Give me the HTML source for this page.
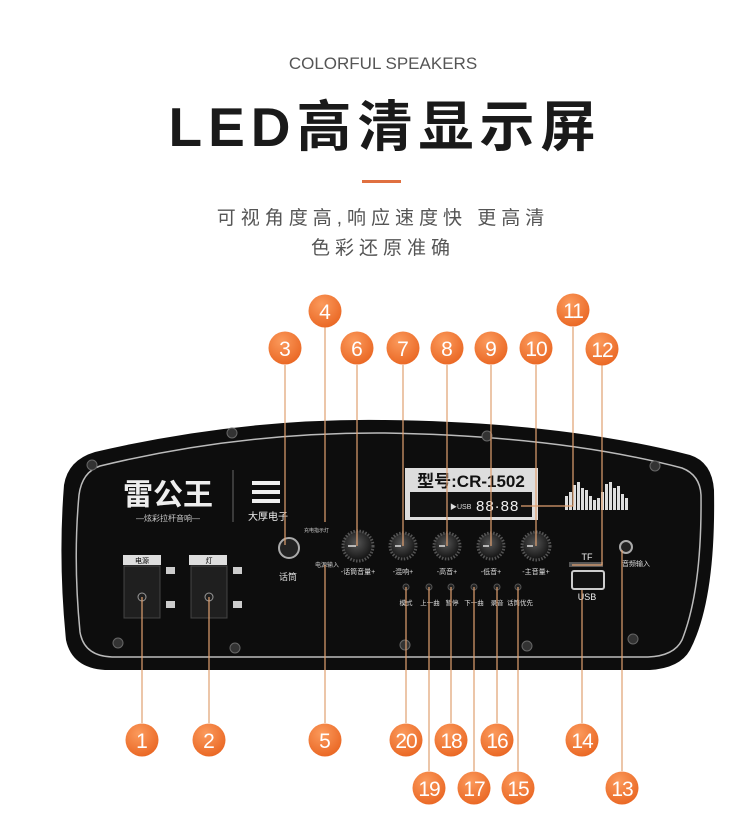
<!DOCTYPE html>
<html><head><meta charset="utf-8"><style>
body{margin:0;background:#fff;width:750px;height:830px;overflow:hidden}
svg{display:block}
.t{font-family:"Liberation Sans","Noto Sans CJK SC",sans-serif}
</style></head><body>
<svg width="750" height="830" viewBox="0 0 750 830" class="t">
<defs>
<radialGradient id="og" cx="0.4" cy="0.3" r="0.8"><stop offset="0" stop-color="#fb9a5c"/><stop offset="1" stop-color="#e8621e"/></radialGradient>
<radialGradient id="kn" cx="0.45" cy="0.4" r="0.6"><stop offset="0" stop-color="#555"/><stop offset="1" stop-color="#111"/></radialGradient>
</defs>
<text x="383" y="69" text-anchor="middle" font-size="17" fill="#555">COLORFUL SPEAKERS</text>
<text x="385" y="146" text-anchor="middle" font-size="55" font-weight="bold" fill="#1a1a1a" letter-spacing="6">LED高清显示屏</text>
<rect x="362" y="180" width="39" height="3" fill="#e07040"/>
<text x="383" y="224" text-anchor="middle" font-size="19" fill="#555" letter-spacing="5">可视角度高,响应速度快 更高清</text>
<text x="383" y="254" text-anchor="middle" font-size="19" fill="#555" letter-spacing="5">色彩还原准确</text>

<path d="M95,452 Q240,418 385,420 Q560,422 690,455 Q712,462 714,490 Q716,600 690,650 Q680,668 650,670 L105,670 Q72,668 66,640 Q58,560 64,485 Q68,460 95,452 Z" fill="#0d0d0d"/>
<path d="M100,466 Q240,432 385,433 Q560,436 682,468 Q700,475 701,495 Q702,590 682,640 Q674,656 648,657 L112,657 Q84,656 80,632 Q73,560 79,495 Q82,472 100,466 Z" fill="none" stroke="#bbb" stroke-width="1.5"/>
<g fill="#333" stroke="#666"><circle cx="92" cy="465" r="5"/><circle cx="232" cy="433" r="5"/><circle cx="487" cy="436" r="5"/><circle cx="655" cy="466" r="5"/><circle cx="118" cy="643" r="5"/><circle cx="235" cy="648" r="5"/><circle cx="405" cy="645" r="5"/><circle cx="527" cy="646" r="5"/><circle cx="633" cy="639" r="5"/></g>
<text x="168" y="505" text-anchor="middle" font-size="30" font-weight="bold" fill="#eee">雷公王</text>
<text x="168" y="521" text-anchor="middle" font-size="8" fill="#ccc">—炫彩拉杆音响—</text>
<line x1="233" y1="470" x2="233" y2="522" stroke="#666"/>
<g fill="#eee"><rect x="252" y="481" width="28" height="4"/><rect x="252" y="490" width="28" height="4"/><rect x="252" y="499" width="28" height="4"/></g>
<text x="268" y="520" text-anchor="middle" font-size="10" fill="#eee">大厚电子</text>
<text x="304" y="532" font-size="5" fill="#ccc">充电指示灯</text>
<rect x="405" y="468" width="133" height="52" fill="#ddd"/>
<text x="471" y="487" text-anchor="middle" font-size="17" font-weight="bold" fill="#111">型号:CR-1502</text>
<rect x="410" y="492" width="122" height="25" fill="#111"/>
<text x="450" y="509" font-size="7" fill="#ddd">▶USB</text>
<text x="476" y="511" font-size="15" fill="#eee" letter-spacing="1">88·88</text>
<g fill="#ddd">
<rect x="565" y="496" width="3" height="14"/><rect x="569" y="492" width="3" height="18"/><rect x="573" y="485" width="3" height="25"/><rect x="577" y="482" width="3" height="28"/><rect x="581" y="488" width="3" height="22"/><rect x="585" y="490" width="3" height="20"/><rect x="589" y="496" width="3" height="14"/><rect x="593" y="500" width="3" height="10"/><rect x="597" y="498" width="3" height="12"/><rect x="601" y="492" width="3" height="18"/><rect x="605" y="484" width="3" height="26"/><rect x="609" y="482" width="3" height="28"/><rect x="613" y="488" width="3" height="22"/><rect x="617" y="486" width="3" height="24"/><rect x="621" y="494" width="3" height="16"/><rect x="625" y="498" width="3" height="12"/></g>
<circle cx="289" cy="548" r="10" fill="#222" stroke="#aaa" stroke-width="2"/>
<text x="288" y="580" text-anchor="middle" font-size="9" fill="#ddd">话筒</text>
<text x="315" y="567" font-size="6" fill="#ccc">电源输入</text>
<g fill="url(#kn)" stroke="#555" stroke-dasharray="1.5 1.5" stroke-width="3"><circle cx="358" cy="546" r="15"/><circle cx="403" cy="546" r="13"/><circle cx="447" cy="546" r="13"/><circle cx="491" cy="546" r="13"/><circle cx="536" cy="546" r="14"/></g>
<g stroke="#ddd" stroke-width="1.5"><path d="M348,546h8M395,546h6M439,546h6M483,546h6M527,546h6"/></g>
<g font-size="7" fill="#ddd" text-anchor="middle"><text x="358" y="574">-话筒音量+</text><text x="403" y="574">-混响+</text><text x="447" y="574">-高音+</text><text x="491" y="574">-低音+</text><text x="536" y="574">-主音量+</text></g>
<g fill="#222" stroke="#555"><circle cx="406" cy="587" r="3"/><circle cx="429" cy="587" r="3"/><circle cx="451" cy="587" r="3"/><circle cx="474" cy="587" r="3"/><circle cx="497" cy="587" r="3"/><circle cx="518" cy="587" r="3"/></g>
<g font-size="6.5" fill="#ddd" text-anchor="middle"><text x="406" y="605">模式</text><text x="430" y="605">上一曲</text><text x="452" y="605">暂停</text><text x="474" y="605">下一曲</text><text x="497" y="605">录音</text><text x="520" y="605">话筒优先</text></g>
<g><rect x="123" y="555" width="38" height="10" fill="#ddd"/><text x="142" y="563" text-anchor="middle" font-size="7">电源</text>
<rect x="124" y="566" width="36" height="52" fill="#1f1f1f" stroke="#444"/><circle cx="142" cy="597" r="4" fill="none" stroke="#999"/>
<rect x="189" y="555" width="38" height="10" fill="#ddd"/><text x="209" y="563" text-anchor="middle" font-size="7">灯</text>
<rect x="191" y="566" width="36" height="52" fill="#1f1f1f" stroke="#444"/><circle cx="209" cy="597" r="4" fill="none" stroke="#999"/>
<g fill="#ccc"><rect x="166" y="567" width="9" height="7"/><rect x="166" y="601" width="9" height="7"/><rect x="233" y="567" width="9" height="7"/><rect x="233" y="601" width="9" height="7"/></g></g>
<text x="587" y="560" text-anchor="middle" font-size="9" fill="#eee">TF</text>
<rect x="569" y="562" width="34" height="5" fill="#555"/>
<rect x="572" y="571" width="32" height="18" rx="2" fill="#111" stroke="#ccc" stroke-width="2"/>
<text x="587" y="600" text-anchor="middle" font-size="9" fill="#eee">USB</text>
<circle cx="626" cy="547" r="6" fill="#222" stroke="#aaa" stroke-width="2"/>
<text x="636" y="566" text-anchor="middle" font-size="7" fill="#ddd">音频输入</text>
<g stroke="#e0a070" stroke-width="1.2" fill="none">
<path d="M285,365V545"/><path d="M325,327V522"/><path d="M357,365V546"/><path d="M403,365V546"/><path d="M447,365V546"/><path d="M491,365V546"/><path d="M536,365V546"/>
<path d="M573,327V506H521"/><path d="M602,365V565H572"/>
<path d="M142,723V597"/><path d="M209,723V597"/><path d="M325,723V565"/><path d="M406,723V587"/><path d="M429,771V587"/><path d="M451,723V587"/><path d="M474,771V587"/><path d="M497,723V587"/><path d="M518,771V587"/><path d="M582,723V590"/><path d="M622,771V550"/>
</g>
<g font-size="21" fill="#fff" text-anchor="middle" font-family="Liberation Sans,sans-serif">
<g fill="url(#og)">
<circle cx="142" cy="740" r="16.5"/><circle cx="209" cy="740" r="16.5"/><circle cx="285" cy="348" r="16.5"/><circle cx="325" cy="311" r="16.5"/><circle cx="325" cy="740" r="16.5"/><circle cx="357" cy="348" r="16.5"/><circle cx="403" cy="348" r="16.5"/><circle cx="447" cy="348" r="16.5"/><circle cx="491" cy="348" r="16.5"/><circle cx="536" cy="348" r="16.5"/><circle cx="573" cy="310" r="16.5"/><circle cx="602" cy="349" r="16.5"/><circle cx="622" cy="788" r="16.5"/><circle cx="582" cy="740" r="16.5"/><circle cx="518" cy="788" r="16.5"/><circle cx="497" cy="740" r="16.5"/><circle cx="474" cy="788" r="16.5"/><circle cx="451" cy="740" r="16.5"/><circle cx="429" cy="788" r="16.5"/><circle cx="406" cy="740" r="16.5"/>
</g>
<text x="142" y="748">1</text><text x="209" y="748">2</text><text x="285" y="356">3</text><text x="325" y="319">4</text><text x="325" y="748">5</text><text x="357" y="356">6</text><text x="403" y="356">7</text><text x="447" y="356">8</text><text x="491" y="356">9</text><text x="536" y="356" letter-spacing="-1">10</text><text x="573" y="318" letter-spacing="-1">11</text><text x="602" y="357" letter-spacing="-1">12</text><text x="622" y="796" letter-spacing="-1">13</text><text x="582" y="748" letter-spacing="-1">14</text><text x="518" y="796" letter-spacing="-1">15</text><text x="497" y="748" letter-spacing="-1">16</text><text x="474" y="796" letter-spacing="-1">17</text><text x="451" y="748" letter-spacing="-1">18</text><text x="429" y="796" letter-spacing="-1">19</text><text x="406" y="748" letter-spacing="-1">20</text>
</g>
</svg>
</body></html>
